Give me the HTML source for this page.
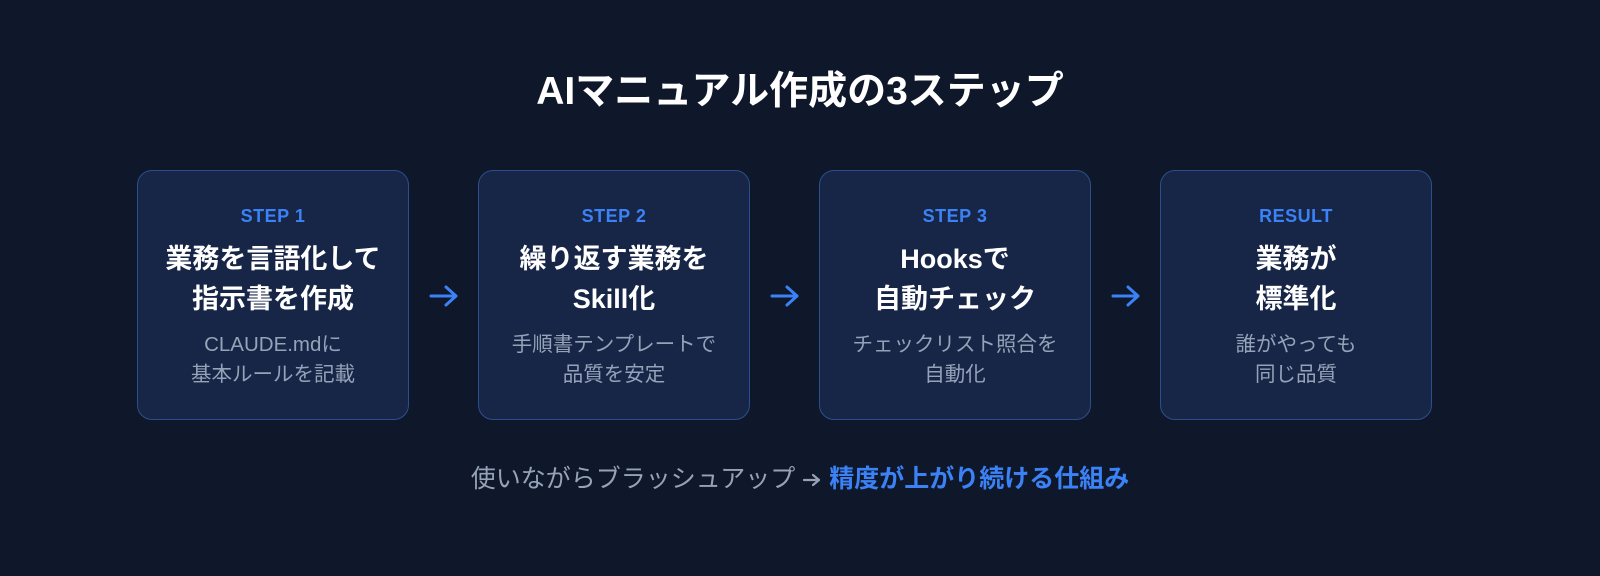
<!DOCTYPE html>
<html><head><meta charset="utf-8"><style>
body{margin:0;width:1600px;height:576px;background:#0f172a;font-family:"Liberation Sans","Noto Sans CJK JP",sans-serif;position:relative;overflow:hidden}
.t{position:absolute;top:66px;left:0;width:1600px;text-align:center;color:#fff;font-size:39px;font-weight:bold;line-height:52px}
.box{position:absolute;top:170px;width:270px;height:248px;border:1.5px solid #2b4f8c;border-radius:15px;background:#172647;text-align:center}
.s{position:absolute;width:100%;color:#3b82f6;font-weight:bold;font-size:18px;line-height:22px;letter-spacing:0.5px}
.h{position:absolute;width:100%;color:#fff;font-weight:bold;font-size:27px;line-height:40px}
.d{position:absolute;width:100%;color:#94a3b8;font-size:20.5px;line-height:30px}
.box>div{left:0}
.a{position:absolute;top:284px}
.f{position:absolute;top:463px;left:0;width:1600px;text-align:center;color:#94a3b8;font-size:25px;line-height:32px}
.f b{color:#3b82f6}
</style></head><body>
<div class="t">AIマニュアル作成の3ステップ</div>
<div class="box" style="left:137px"><div class="s" style="top:34px">STEP 1</div><div class="h" style="top:68px">業務を言語化して<br>指示書を作成</div><div class="d" style="top:159px">CLAUDE.mdに<br>基本ルールを記載</div></div>
<svg class="a" style="left:429px" width="30" height="24"><path d="M2 12H27M17 3L27 12L17 21" fill="none" stroke="#3b82f6" stroke-width="3" stroke-linecap="round" stroke-linejoin="round"/></svg>
<div class="box" style="left:478px"><div class="s" style="top:34px">STEP 2</div><div class="h" style="top:68px">繰り返す業務を<br>Skill化</div><div class="d" style="top:159px">手順書テンプレートで<br>品質を安定</div></div>
<svg class="a" style="left:770px" width="30" height="24"><path d="M2 12H27M17 3L27 12L17 21" fill="none" stroke="#3b82f6" stroke-width="3" stroke-linecap="round" stroke-linejoin="round"/></svg>
<div class="box" style="left:819px"><div class="s" style="top:34px">STEP 3</div><div class="h" style="top:68px">Hooksで<br>自動チェック</div><div class="d" style="top:159px">チェックリスト照合を<br>自動化</div></div>
<svg class="a" style="left:1111px" width="30" height="24"><path d="M2 12H27M17 3L27 12L17 21" fill="none" stroke="#3b82f6" stroke-width="3" stroke-linecap="round" stroke-linejoin="round"/></svg>
<div class="box" style="left:1160px"><div class="s" style="top:34px">RESULT</div><div class="h" style="top:68px">業務が<br>標準化</div><div class="d" style="top:159px">誰がやっても<br>同じ品質</div></div>
<div class="f">使いながらブラッシュアップ <svg width="20" height="16" style="vertical-align:-1px"><path d="M2 8H17M11 3L17 8L11 13" fill="none" stroke="#94a3b8" stroke-width="2.2" stroke-linecap="round" stroke-linejoin="round"/></svg> <b>精度が上がり続ける仕組み</b></div>
</body></html>
